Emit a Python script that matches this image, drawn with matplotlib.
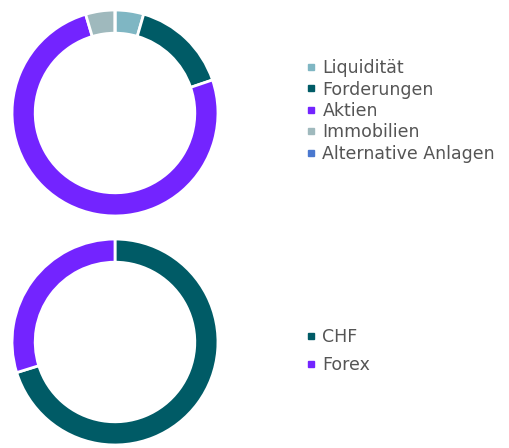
import matplotlib.pyplot as plt
from matplotlib.lines import Line2D

# asset allocation
asset_labels = ["Liquidität", "Forderungen", "Aktien", "Immobilien", "Alternative Anlagen"]
asset_values = [4.5, 15.3, 75.6, 4.6, 0.0]
asset_colors = ["#7fb6c3", "#005b66", "#7324ff", "#9fb9bd", "#4a78cf"]

# currency split
ccy_labels = ["CHF", "Forex"]
ccy_values = [70.2, 29.8]
ccy_colors = ["#005b66", "#7324ff"]

W, H = 510, 448
fig = plt.figure(figsize=(W / 100, H / 100), dpi=100)
text_color = "#555555"


def donut(rect, values, colors):
    ax = fig.add_axes(rect)
    ax.pie(values, colors=colors, startangle=90, counterclock=False,
           radius=1.0, wedgeprops=dict(width=0.225, edgecolor="white", linewidth=2))
    ax.set_xlim(-1.01, 1.01)
    ax.set_ylim(-1.01, 1.01)
    ax.set_aspect("equal")
    ax.axis("off")
    return ax


def add_legend(labels, colors, y_center, spacing):
    handles = [Line2D([], [], marker="s", linestyle="none", markersize=5,
                      markerfacecolor=c, markeredgecolor=c) for c in colors]
    leg = fig.legend(handles, labels, loc="center left",
                     bbox_to_anchor=(299 / W, y_center), frameon=False,
                     fontsize=12.5, labelcolor=text_color, handlelength=0.4,
                     handletextpad=0.45, labelspacing=spacing, borderpad=0)
    return leg


r = 104
donut([(115 - r) / W, (H - 113 - r) / H, 2 * r / W, 2 * r / H], asset_values, asset_colors)
donut([(115 - r) / W, (H - 342 - r) / H, 2 * r / W, 2 * r / H], ccy_values, ccy_colors)

add_legend(asset_labels, asset_colors, (H - 111) / H, 0.2)
add_legend(ccy_labels, ccy_colors, (H - 351) / H, 0.55)

fig.savefig("out.png", dpi=100)
